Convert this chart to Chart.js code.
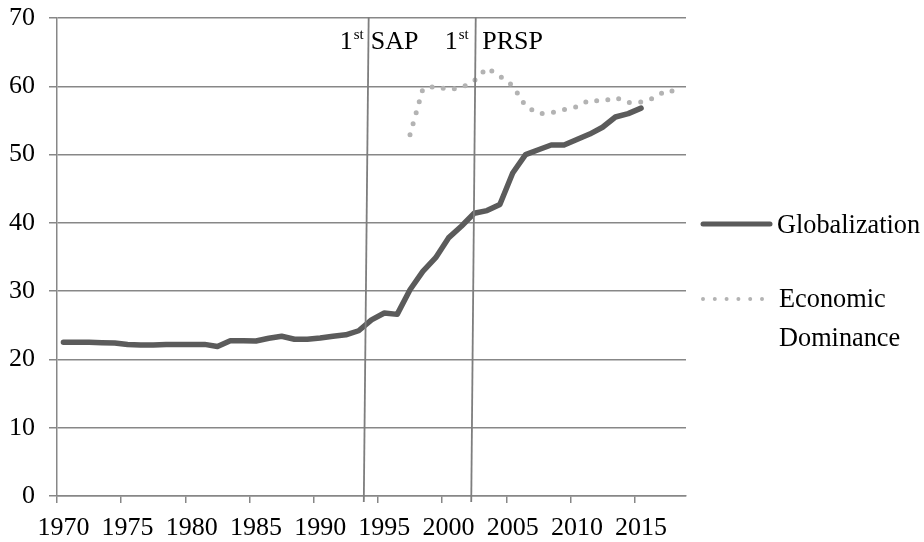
<!DOCTYPE html>
<html>
<head>
<meta charset="utf-8">
<script src="https://cdn.jsdelivr.net/npm/chart.js@4/dist/chart.umd.min.js"></script>
<style>
  html, body { margin: 0; padding: 0; background: #ffffff; }
  #wrap { width: 924px; height: 542px; }
</style>
</head>
<body>
<div id="wrap"><canvas id="c" width="924" height="542"></canvas></div>
<script>
// ---- data ----
const years = ['1970','1971','1972','1973','1974','1975','1976','1977','1978','1979',
               '1980','1981','1982','1983','1984','1985','1986','1987','1988','1989',
               '1990','1991','1992','1993','1994','1995','1996','1997','1998','1999',
               '2000','2001','2002','2003','2004','2005','2006','2007','2008','2009',
               '2010','2011','2012','2013','2014','2015','2016','2017','2018'];

const globalization = [22.5, 22.5, 22.5, 22.45, 22.4, 22.2, 22.1, 22.1, 22.2, 22.2,
                       22.2, 22.2, 21.9, 22.75, 22.75, 22.7, 23.1, 23.4, 22.95, 22.95,
                       23.15, 23.4, 23.6, 24.2, 25.8, 26.8, 26.6, 30.2, 32.9, 34.9,
                       37.8, 39.5, 41.4, 41.8, 42.7, 47.3, 50.0, 50.7, 51.4, 51.4,
                       52.2, 53.0, 54.0, 55.5, 56.0, 56.8, null, null, null];

const economicDominance = [null, null, null, null, null, null, null, null, null, null,
                           null, null, null, null, null, null, null, null, null, null,
                           null, null, null, null, null, null, null, 52.9, 59.6, 60.0,
                           59.5, 59.8, 60.8, 62.7, 61.5, 60.1, 57.1, 56.0, 56.1, 56.6,
                           57.0, 58.0, 57.8, 58.35, 57.6, 57.7, 58.3, 59.45, 59.15];

const yTicks = [0, 10, 20, 30, 40, 50, 60, 70];
const seriesNames = ['Globalization', 'Economic Dominance'];

// event markers: category position (year, fractional) at top and bottom of the line
const markers = [
  { sup: 'st', pre: '1', name: 'SAP',  topYear: 1993.78, bottomYear: 1993.40, gapL: 5, gapR: 2 },
  { sup: 'st', pre: '1', name: 'PRSP', topYear: 2002.12, bottomYear: 2001.77, gapL: 7, gapR: 6.5 }
];

// ---- styles ----
const gridColor = '#878787';
const globColor = '#5b5b5b';
const econColor = '#b3b3b3';
const FONT = '"Liberation Serif", "Times New Roman", serif';

const overlay = {
  id: 'overlay',
  afterDraw(chart) {
    const ctx = chart.ctx;
    const xs = chart.scales.x;
    const top = chart.chartArea.top - 1;
    const bottom = chart.chartArea.bottom + 6;
    ctx.save();
    markers.forEach(m => {
      const xt = xs.getPixelForValue(m.topYear - 1970);
      const xb = xs.getPixelForValue(m.bottomYear - 1970);
      ctx.strokeStyle = '#7e7e7e';
      ctx.lineWidth = 1.8;
      ctx.beginPath();
      ctx.moveTo(xt, top);
      ctx.lineTo(xb, bottom);
      ctx.stroke();

      ctx.fillStyle = '#000';
      ctx.textBaseline = 'alphabetic';
      ctx.font = '26px ' + FONT;
      ctx.textAlign = 'left';
      ctx.fillText(m.name, xt + m.gapR, 49);
      ctx.font = '15px ' + FONT;
      const supW = ctx.measureText(m.sup).width;
      ctx.textAlign = 'right';
      ctx.fillText(m.sup, xt - m.gapL, 39);
      ctx.font = '26px ' + FONT;
      ctx.fillText(m.pre, xt - m.gapL - supW - 1, 49);
    });

    // legend
    ctx.lineCap = 'round';
    ctx.strokeStyle = globColor;
    ctx.lineWidth = 5;
    ctx.beginPath();
    ctx.moveTo(703, 224);
    ctx.lineTo(770, 224);
    ctx.stroke();

    ctx.strokeStyle = econColor;
    ctx.lineWidth = 4;
    ctx.setLineDash([0, 11.8]);
    ctx.beginPath();
    ctx.moveTo(703, 299);
    ctx.lineTo(764, 299);
    ctx.stroke();
    ctx.setLineDash([]);

    ctx.fillStyle = '#000';
    ctx.textAlign = 'left';
    ctx.textBaseline = 'alphabetic';
    ctx.font = '26.3px ' + FONT;
    ctx.fillText(seriesNames[0], 777, 233);
    ctx.fillText('Economic', 779, 307);
    ctx.fillText('Dominance', 779, 346);
    ctx.restore();
  }
};

new Chart(document.getElementById('c'), {
  type: 'line',
  data: {
    labels: years,
    datasets: [
      {
        label: seriesNames[1],
        data: economicDominance,
        borderColor: econColor,
        borderWidth: 5,
        borderDash: [0, 11.4],
        borderCapStyle: 'round',
        borderJoinStyle: 'round',
        pointRadius: 0,
        fill: false,
        tension: 0,
        spanGaps: false
      },
      {
        label: seriesNames[0],
        data: globalization,
        borderColor: globColor,
        borderWidth: 5.5,
        borderCapStyle: 'round',
        borderJoinStyle: 'round',
        pointRadius: 0,
        fill: false,
        tension: 0
      }
    ]
  },
  options: {
    responsive: false,
    animation: false,
    devicePixelRatio: 1,
    layout: { padding: { top: 18, right: 238, left: 0, bottom: 0 } },
    plugins: { legend: { display: false }, tooltip: { enabled: false } },
    scales: {
      x: {
        type: 'category',
        offset: true,
        grid: {
          offset: true,
          drawOnChartArea: false,
          drawTicks: true,
          tickLength: 7,
          lineWidth: 1.5,
          color: (c) => (c.index % 5 === 0 ? gridColor : 'rgba(0,0,0,0)')
        },
        border: { color: gridColor, width: 1.5 },
        ticks: {
          autoSkip: false,
          maxRotation: 0,
          minRotation: 0,
          padding: 10,
          color: '#000',
          font: { family: FONT, size: 26 },
          callback: (v, i) => (i % 5 === 0 ? years[i] : '')
        },
        afterFit: (s) => { s.height = 46; s.paddingLeft = 0; s.paddingRight = 0; }
      },
      y: {
        min: 0,
        max: 70,
        afterBuildTicks: (s) => { s.ticks = yTicks.map(v => ({ value: v })); },
        grid: { color: gridColor, lineWidth: 1.5, tickLength: 8 },
        border: { color: gridColor, width: 1.5 },
        ticks: {
          padding: 14,
          color: '#000',
          font: { family: FONT, size: 26 }
        },
        afterFit: (s) => { s.width = 57; s.paddingTop = 0; s.paddingBottom = 0; }
      }
    }
  },
  plugins: [overlay]
});
</script>
</body>
</html>
